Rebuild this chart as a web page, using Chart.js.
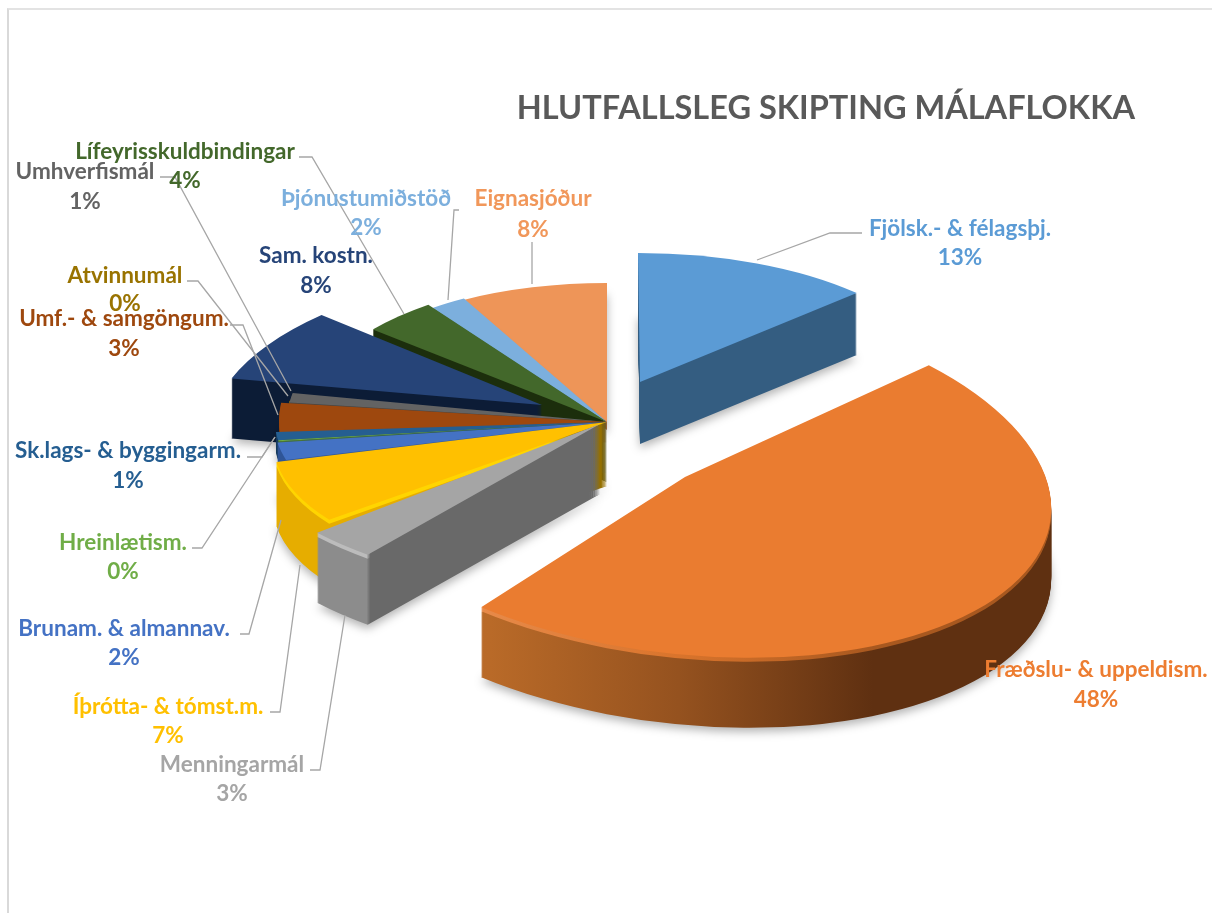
<!DOCTYPE html>
<html lang="is">
<head>
<meta charset="utf-8">
<title>Hlutfallsleg skipting málaflokka</title>
<script src="https://cdn.jsdelivr.net/npm/chart.js@4"></script>
<style>
    body { margin: 0; background: #fff; }
    #frame { position: absolute; left: 7px; top: 8px; width: 1205px; height: 905px; border-top: 2px solid #e3e3e3; border-left: 2px solid #d9d9d9; box-sizing: border-box; }
    #grafica { position: absolute; left: 0; top: 0; }
</style>
</head>
<body>
<div id="frame"></div>
<canvas id="grafica" width="1212" height="914"></canvas>
<script>
// DATA
const categories = ["Fjölsk.- & félagsþj.", "Fræðslu- & uppeldism.", "Menningarmál", "Íþrótta- & tómst.m.",
    "Brunam. & almannav.", "Hreinlætism.", "Sk.lags- & byggingarm.", "Umf.- & samgöngum.", "Atvinnumál",
    "Umhverfismál", "Sam. kostn.", "Lífeyrisskuldbindingar", "Þjónustumiðstöð", "Eignasjóður"];
const values = [12.9, 47.8, 3.0, 7.0, 2.0, 0.1, 1.0, 3.0, 0.2, 1.0, 8.0, 4.0, 2.0, 8.0];
const title = "HLUTFALLSLEG SKIPTING MÁLAFLOKKA";

// COLOURS
const faceColors = ["#5b9bd5", "#ea7c30", "#a5a5a5", "#ffc000", "#4472c4", "#70ad47", "#255e91", "#9e480e",
    "#997300", "#636363", "#264478", "#43682b", "#7cafdd", "#ee9558"];
const textColors = ["#5b9bd5", "#ed7d31", "#a5a5a5", "#ffc000", "#4472c4", "#70ad47", "#255e91", "#9e480e",
    "#997300", "#636363", "#264478", "#43682b", "#7cafdd", "#f1975a"];
const wallStops = [
    [[0, "#345d81"], [1, "#345d81"]],
    [[0, "#bd7230"], [0.2, "#b96a28"], [0.45, "#95521f"], [0.72, "#5f3011"], [1, "#5f3011"]],
    [[0, "#9c9c9c"], [0.12, "#8c8c8c"], [0.187, "#8c8c8c"], [0.192, "#696969"], [1, "#696969"]],
    [[0, "#e6ad00"], [0.42, "#e6ad00"], [0.46, "#957000"], [1, "#957000"]],
    [[0, "#2f5597"], [1, "#2f5597"]],
    [[0, "#4d7a30"], [1, "#4d7a30"]],
    [[0, "#163a5c"], [1, "#163a5c"]],
    [[0, "#6b3009"], [1, "#6b3009"]],
    [[0, "#6b5000"], [1, "#6b5000"]],
    [[0, "#444444"], [1, "#444444"]],
    [[0, "#0c1c36"], [1, "#0c1c36"]],
    [[0, "#1c2e0c"], [1, "#1c2e0c"]],
    [[0, "#4d7fae"], [1, "#4d7fae"]],
    [[0, "#b86a35"], [1, "#b86a35"]]
];
// top few pixels of the wall, the lit edge
const rimStops = {
    1: [[0, "#f29a5e"], [0.45, "#d9742c"], [0.72, "#a8581f"], [1, "#a8581f"]],
    2: [[0, "#bcbcbc"], [0.187, "#bcbcbc"], [0.192, "#696969"], [1, "#696969"]],
    3: [[0, "#ffd500"], [0.42, "#ffd500"], [0.46, "#957000"], [1, "#957000"]]
};

// POSITION OF EACH SLICE ON THE PAGE (3D look): centre, axes, depth
const sliceViews = [
    { x: 640, y: 382, a: 301, b: 0, c: 2, d: 129, depth: 62 },
    { x: 685, y: 477, a: 365, b: 17, c: 30, d: 180, depth: 70 },
    { x: 600, y: 424, a: 373, b: 0, c: 0, d: 167, depth: 70 },
    { x: 607, y: 422, a: 332, b: 0, c: -40, d: 150, depth: 64 },
    { x: 607, y: 422, a: 333, b: 0, c: 0, d: 142, depth: 50 },
    { x: 607, y: 422, a: 332, b: 0, c: 0, d: 133, depth: 20 },
    { x: 607, y: 422, a: 332, b: 0, c: 0, d: 133, depth: 20 },
    { x: 607, y: 422, a: 328, b: 0, c: 0, d: 170, depth: 20 },
    { x: 607, y: 422, a: 320, b: 0, c: 0, d: 170, depth: 20 },
    { x: 607, y: 422, a: 320, b: 0, c: 0, d: 155, depth: 20 },
    { x: 542, y: 405, a: 325, b: 0, c: -47, d: 141, depth: 60 },
    { x: 607, y: 422, a: 304, b: 0, c: 0, d: 145, depth: 60 },
    { x: 607, y: 422, a: 297, b: 0, c: 0, d: 141, depth: 8 },
    { x: 607, y: 422, a: 300, b: 0, c: 0, d: 139, depth: 8 }
];
const drawOrder = [13, 12, 11, 10, 0, 8, 9, 7, 6, 5, 4, 3, 2, 1];

// LABEL POSITIONS: centre x, y of name, y of percent
const labelSpots = [
    [960, 229, 258], [1096, 670, 700], [232, 765, 794], [168, 707, 736], [124, 629, 658], [123, 543, 572],
    [128, 451, 481], [124, 319, 349], [125, 276, 304], [85, 172, 202], [316, 256, 286], [185, 152, 181],
    [366, 199, 228], [533, 199, 230]
];
const leaderLines = [
    [[757, 260], [830, 233], [862, 233]],
    [],
    [[345, 615], [320, 770], [310, 770]],
    [[300, 565], [280, 712], [270, 712]],
    [[281, 520], [249, 634], [240, 634]],
    [[275, 437], [202, 548], [192, 548]],
    [[275, 437], [262, 457], [247, 457]],
    [[278, 415], [243, 325], [230, 325]],
    [[288, 396], [198, 281], [187, 281]],
    [[291, 391], [175, 177], [160, 177]],
    [],
    [[404, 314], [312, 157], [299, 157]],
    [[448, 300], [454, 210], [459, 210]],
    [[532, 284], [532, 242]]
];

function paintArc(ctx, arc, view, layer, color, shadow) {
    const base = arc.options;
    arc.options = { ...base, backgroundColor: color };
    ctx.save();
    if (shadow) {
        ctx.shadowColor = "rgba(0,0,0,0.3)";
        ctx.shadowBlur = 10;
        ctx.shadowOffsetY = 4;
    }
    ctx.translate(view.x, view.y + layer);
    ctx.transform(view.a / 100, view.b / 100, view.c / 100, view.d / 100, 0, 0);
    ctx.translate(-arc.x, -arc.y);
    arc.draw(ctx);
    ctx.restore();
    arc.options = base;
}

function sideGradient(ctx, arc, stops) {
    const grad = ctx.createLinearGradient(arc.x - 100, 0, arc.x + 100, 0);
    stops.forEach(s => grad.addColorStop(s[0], s[1]));
    return grad;
}

const pie3d = {
    id: "pie3d",
    beforeDatasetDraw(chart) {
        const ctx = chart.ctx;
        const arcs = chart.getDatasetMeta(0).data;
        drawOrder.forEach(i => {
            const arc = arcs[i];
            const view = sliceViews[i];
            const wall = sideGradient(ctx, arc, wallStops[i]);
            const rim = rimStops[i] ? sideGradient(ctx, arc, rimStops[i]) : wall;
            for (let layer = view.depth; layer > 0; layer--) {
                paintArc(ctx, arc, view, layer, layer <= 4 ? rim : wall, layer === view.depth);
            }
            paintArc(ctx, arc, view, 0, faceColors[i], false);
        });
        return false;
    }
};

const leaderLabels = {
    id: "leaderLabels",
    afterDraw(chart) {
        const ctx = chart.ctx;
        const total = values.reduce((a, b) => a + b, 0);
        ctx.save();
        ctx.strokeStyle = "#a6a6a6";
        ctx.lineWidth = 1.3;
        leaderLines.forEach(line => {
            if (!line.length) return;
            ctx.beginPath();
            line.forEach((p, k) => k ? ctx.lineTo(p[0], p[1]) : ctx.moveTo(p[0], p[1]));
            ctx.stroke();
        });
        ctx.font = "bold 22.5px Lato";
        ctx.textAlign = "center";
        ctx.textBaseline = "middle";
        categories.forEach((name, i) => {
            const spot = labelSpots[i];
            ctx.fillStyle = textColors[i];
            ctx.fillText(name, spot[0], spot[1]);
            ctx.fillText(Math.round(values[i] / total * 100) + "%", spot[0], spot[2]);
        });
        ctx.restore();
    }
};

new Chart(document.getElementById("grafica"), {
    type: "pie",
    data: {
        labels: categories,
        datasets: [{
            data: values,
            backgroundColor: faceColors,
            borderWidth: 0,
            clip: false
        }]
    },
    options: {
        responsive: false,
        animation: false,
        events: [],
        radius: 100,
        layout: { padding: { top: 89, right: 77 } },
        plugins: {
            legend: { display: false },
            tooltip: { enabled: false },
            title: {
                display: true,
                text: title,
                align: "end",
                color: "#595959",
                padding: 0,
                font: { family: "Lato", size: 32.5, weight: "bold" }
            }
        }
    },
    plugins: [pie3d, leaderLabels]
});
</script>
</body>
</html>
